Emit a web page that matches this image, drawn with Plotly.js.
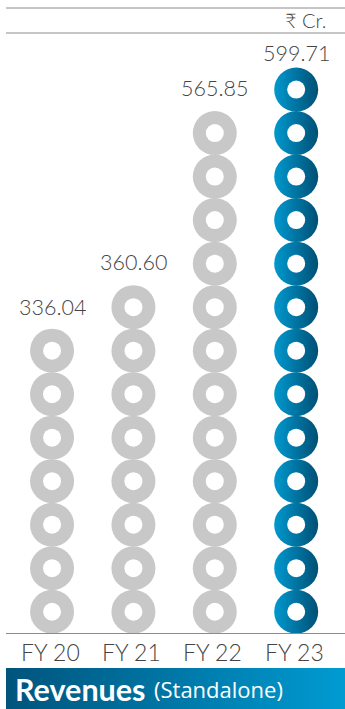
<!DOCTYPE html>
<html>
<head>
<meta charset="utf-8">
<script src="https://cdn.plot.ly/plotly-3.0.1.min.js"></script>
<style>html,body{margin:0;padding:0;background:#fff}#chart{width:345px;height:709px}</style>
</head>
<body>
<div id="chart"></div>
<script>
// Standalone revenues, ₹ Cr., shown as stacks of rings
const categories = ['FY 20', 'FY 21', 'FY 22', 'FY 23'];
const revenues = [336.04, 360.60, 565.85, 599.71];
const ringCounts = [7, 8, 12, 13];
const labelLifts = [44, 45, 45, 37];
const highlighted = 'FY 23';
const unitLabel = '₹ Cr.';
const bannerTitle = 'Revenues';
const bannerSubtitle = '(Standalone)';

const GREY = '#c8c8c8', BLUE_L = '#0099cf', BLUE_D = '#004f74', INK = '#444444';
const FONT = 'Lato, "Open Sans", sans-serif';
const W = 345, H = 709;

function ringPoints(filter) {
  const x = [], y = [];
  categories.forEach((c, i) => {
    if (!filter(c)) return;
    for (let n = 1; n <= ringCounts[i]; n++) { x.push(c); y.push(n); }
  });
  return {x, y};
}
const grey = ringPoints(c => c !== highlighted);
const blue = ringPoints(c => c === highlighted);
const all = ringPoints(() => true);

const traces = [
  {type: 'scatter', mode: 'markers', x: grey.x, y: grey.y, hoverinfo: 'skip',
   marker: {size: 44, color: GREY, line: {width: 0}}},
  {type: 'scatter', mode: 'markers', x: blue.x, y: blue.y, hoverinfo: 'skip',
   marker: {size: 44, color: BLUE_L, line: {width: 0},
            gradient: {type: 'horizontal', color: BLUE_D}}},
  {type: 'scatter', mode: 'markers', x: all.x, y: all.y, hoverinfo: 'skip',
   marker: {size: 18, color: '#ffffff', line: {width: 0}}},
  // banner strip with a left-to-right gradient
  {type: 'scatter', mode: 'lines', xaxis: 'x2', yaxis: 'y2', hoverinfo: 'skip',
   x: [0, 1, 1, 0, 0], y: [0, 0, 1, 1, 0], line: {width: 0}, fill: 'toself',
   fillgradient: {type: 'horizontal',
                  colorscale: [[0, '#00547c'], [1, '#009bd2']]}}
];

const lightFont = size => ({size, color: INK, family: FONT, weight: 300});

const layout = {
  width: W, height: H,
  margin: {l: 0, r: 0, t: 0, b: 0},
  paper_bgcolor: '#fff', plot_bgcolor: '#fff',
  showlegend: false,
  font: {family: FONT, color: INK},
  xaxis: {
    type: 'category', categoryorder: 'array', categoryarray: categories,
    domain: [6 / W, 1], range: [-0.566, 3.6],
    showgrid: false, zeroline: false, showline: false,
    ticks: '', showticklabels: false,
    anchor: 'y', fixedrange: true
  },
  yaxis: {
    domain: [1 - 633.5 / H, 1 - 33 / H], range: [0.5, 14.3],
    showgrid: false, zeroline: false, showline: false, showticklabels: false,
    fixedrange: true
  },
  xaxis2: {domain: [6 / W, 1], range: [0, 1], visible: false, anchor: 'y2', fixedrange: true},
  yaxis2: {domain: [0, 41 / H], range: [0, 1], visible: false, anchor: 'x2', fixedrange: true},
  shapes: [8, 33, 633.5].map(py => ({
    type: 'line', xref: 'paper', yref: 'paper',
    x0: 6 / W, x1: 1, y0: 1 - py / H, y1: 1 - py / H,
    line: {color: '#8c8c8c', width: 1}
  })),
  annotations: [
    ...categories.map((c, i) => ({
      x: c, y: ringCounts[i], xref: 'x', yref: 'y', yshift: labelLifts[i],
      yanchor: 'middle', text: revenues[i].toFixed(2), showarrow: false,
      font: lightFont(21.5)
    })),
    // category names sit under the baseline rule
    ...categories.map(c => ({
      x: c, xref: 'x', xshift: -2, yref: 'paper', y: 1 - 652 / H, yanchor: 'middle',
      text: c, showarrow: false, font: lightFont(23)
    })),
    {xref: 'paper', yref: 'paper', x: 328 / W, y: 1 - 20.5 / H, xanchor: 'right', yanchor: 'middle',
     text: unitLabel, showarrow: false, font: lightFont(20)},
    {xref: 'paper', yref: 'paper', x: 13 / W, y: 1 - 689 / H, xanchor: 'left', yanchor: 'middle',
     text: bannerTitle, showarrow: false, font: {color: '#fff', family: FONT, size: 30.5, weight: 700}},
    {xref: 'paper', yref: 'paper', x: 152 / W, y: 1 - 689 / H, xanchor: 'left', yanchor: 'middle',
     text: bannerSubtitle, showarrow: false, font: {color: '#fff', family: '"Open Sans", sans-serif', size: 22}}
  ]
};

Plotly.newPlot('chart', traces, layout, {displayModeBar: false, staticPlot: true});
</script>
</body>
</html>
